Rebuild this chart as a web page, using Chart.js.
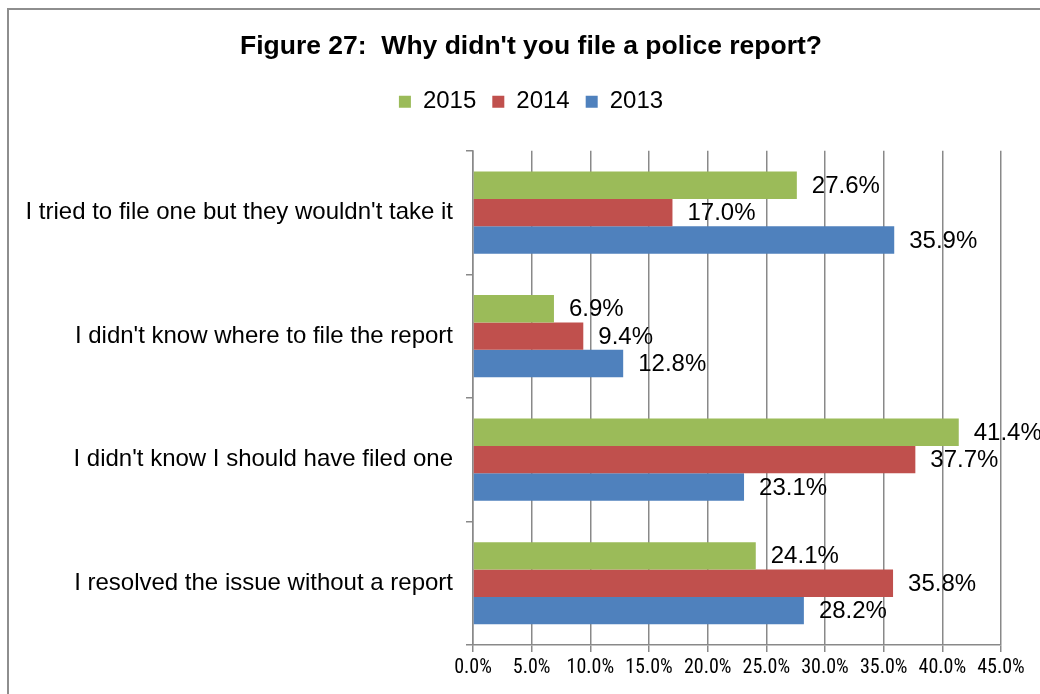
<!DOCTYPE html>
<html>
<head>
<meta charset="utf-8">
<title>Figure 27: Why didn't you file a police report?</title>
<script src="https://cdn.jsdelivr.net/npm/chart.js@4.4.1/dist/chart.umd.min.js"></script>
<style>
  html, body { margin: 0; padding: 0; background: #ffffff; }
  #wrap { width: 1040px; height: 694px; position: relative; overflow: hidden; }
</style>
</head>
<body>
<div id="wrap"><canvas id="c" width="1040" height="694"></canvas></div>
<script>
// Survey answers, percent of respondents
const categories = [
  "I tried to file one but they wouldn't take it",
  "I didn't know where to file the report",
  "I didn't know I should have filed one",
  "I resolved the issue without a report"
];
const seriesNames = ["2015", "2014", "2013"];
const values2015 = [27.6, 6.9, 41.4, 24.1];
const values2014 = [17.0, 9.4, 37.7, 35.8];
const values2013 = [35.9, 12.8, 23.1, 28.2];
const axisMin = 0;
const axisMax = 45;
const axisStep = 5;

const GREEN = '#9BBB59';
const RED = '#C0504D';
const BLUE = '#4F81BD';
const GRID = '#898989';
const SANS = "'Liberation Sans', Arial, Helvetica, sans-serif";
const NARROW = "'Roboto Condensed', 'Liberation Sans Narrow', sans-serif";

Chart.defaults.font.family = SANS;
Chart.defaults.color = '#000000';

const pct = v => v.toFixed(1) + '%';

// Gray frame around the whole figure
const framePlugin = {
  id: 'frame',
  beforeDraw(chart) {
    const ctx = chart.ctx;
    ctx.save();
    ctx.fillStyle = '#8e8e8e';
    ctx.fillRect(7, 8, 2, chart.height);
    ctx.fillRect(7, 8, chart.width, 2);
    ctx.restore();
  }
};

// Empty layout box that keeps some room between the legend and the plot
const gapPlugin = {
  id: 'legendGap',
  beforeInit(chart) {
    const box = {
      position: 'top',
      weight: 0,
      fullSize: true,
      options: {},
      left: 0, top: 0, right: 0, bottom: 0, width: 0, height: 0,
      isHorizontal() { return true; },
      getPadding() { return { left: 0, top: 0, right: 0, bottom: 0 }; },
      update(maxWidth) { this.width = maxWidth; this.height = 27; },
      draw() {}
    };
    Chart.layouts.addBox(chart, box);
  }
};

// Value labels just past the end of each bar
const valueLabels = {
  id: 'valueLabels',
  afterDatasetsDraw(chart) {
    const ctx = chart.ctx;
    ctx.save();
    ctx.font = '24px ' + SANS;
    ctx.fillStyle = '#000000';
    ctx.textAlign = 'left';
    ctx.textBaseline = 'middle';
    chart.data.datasets.forEach((ds, di) => {
      const meta = chart.getDatasetMeta(di);
      meta.data.forEach((bar, i) => {
        ctx.fillText(pct(ds.data[i]), bar.x + 15, bar.y + 1);
      });
    });
    ctx.restore();
  }
};

new Chart(document.getElementById('c'), {
  type: 'bar',
  data: {
    labels: categories,
    datasets: [
      { label: seriesNames[0], data: values2015, backgroundColor: GREEN },
      { label: seriesNames[1], data: values2014, backgroundColor: RED },
      { label: seriesNames[2], data: values2013, backgroundColor: BLUE }
    ]
  },
  options: {
    indexAxis: 'y',
    responsive: false,
    devicePixelRatio: 1,
    animation: false,
    events: [],
    layout: { padding: { top: 0, left: 22, right: 0, bottom: 10 } },
    datasets: {
      bar: { categoryPercentage: 0.665, barPercentage: 1.0, borderWidth: 0 }
    },
    plugins: {
      title: {
        display: true,
        text: "Figure 27:  Why didn't you file a police report?",
        font: { size: 26.5, weight: 'bold', family: SANS },
        color: '#000000',
        padding: { top: 31, bottom: 11 }
      },
      legend: {
        display: true,
        position: 'top',
        labels: {
          boxWidth: 12,
          boxHeight: 12,
          padding: 16,
          font: { size: 24, family: SANS },
          color: '#000000'
        }
      },
      tooltip: { enabled: false }
    },
    scales: {
      x: {
        type: 'linear',
        position: 'bottom',
        min: axisMin,
        max: axisMax,
        ticks: {
          stepSize: axisStep,
          padding: 4,
          font: { size: 20, family: NARROW },
          color: '#000000',
          callback: v => pct(v),
          maxRotation: 0
        },
        grid: {
          color: GRID,
          lineWidth: 1.5,
          drawTicks: true,
          tickLength: 7,
          tickColor: GRID
        },
        border: { display: true, color: GRID, width: 1.5 },
        afterFit(scale) { scale.paddingRight = 39; }
      },
      y: {
        type: 'category',
        position: 'left',
        ticks: {
          padding: 13,
          font: { size: 24, family: SANS },
          color: '#000000'
        },
        grid: {
          offset: true,
          drawOnChartArea: false,
          drawTicks: true,
          tickLength: 7,
          color: GRID,
          lineWidth: 1.5
        },
        border: { display: true, color: GRID, width: 1.5 },
        afterFit(scale) { scale.width = 451; }
      }
    }
  },
  plugins: [framePlugin, gapPlugin, valueLabels]
});
</script>
</body>
</html>
